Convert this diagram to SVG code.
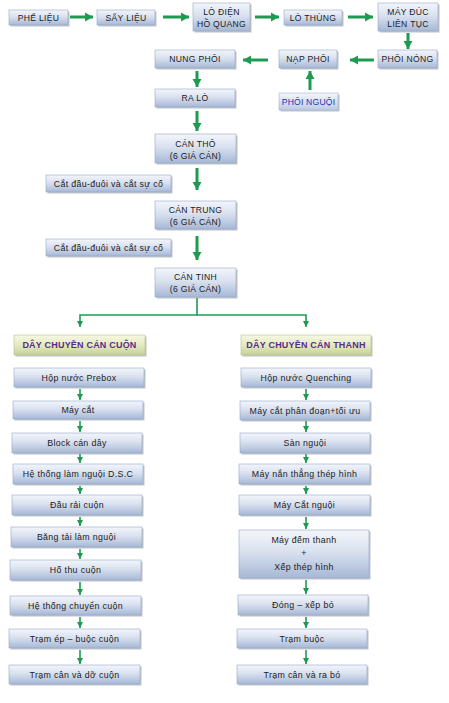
<svg xmlns="http://www.w3.org/2000/svg" width="449" height="703" viewBox="0 0 449 703">
<defs>
<linearGradient id="gb" x1="0" y1="0" x2="0" y2="1">
<stop offset="0" stop-color="#f3f5fb"/>
<stop offset="0.45" stop-color="#d9e1ef"/>
<stop offset="1" stop-color="#a6b8d6"/>
</linearGradient>
<linearGradient id="gy" x1="0" y1="0" x2="0" y2="1">
<stop offset="0" stop-color="#f6f8e4"/>
<stop offset="0.5" stop-color="#e4eac2"/>
<stop offset="1" stop-color="#c6d296"/>
</linearGradient>
<linearGradient id="gl" x1="0" y1="0" x2="0" y2="1">
<stop offset="0" stop-color="#f4f6fb"/>
<stop offset="1" stop-color="#bccbe3"/>
</linearGradient>
<marker id="ah" markerUnits="userSpaceOnUse" markerWidth="10" markerHeight="10" refX="8" refY="5" orient="auto">
<path d="M0,0.5 L8,5 L0,9.5 Z" fill="#1e9a52"/>
</marker>
<marker id="as" markerUnits="userSpaceOnUse" markerWidth="7" markerHeight="7" refX="6" refY="3.5" orient="auto">
<path d="M0,0.5 L6,3.5 L0,6.5 Z" fill="#1e9a52"/>
</marker>
</defs>
<style>
.sh{fill:#8e939c;opacity:0.55}
.b{fill:url(#gb);stroke:#95a8c9;stroke-width:0.6}
.y{fill:url(#gy);stroke:#b5c28a;stroke-width:0.6}
.l{fill:url(#gl);stroke:#a5b5d2;stroke-width:0.6}
text{font-family:"Liberation Sans",Arial,sans-serif;text-anchor:middle;fill:#1b1b24}
.u{font-size:8.6px;letter-spacing:0.3px}
.n{font-size:8.8px;letter-spacing:0.35px}
.h{font-size:9px;font-weight:bold;fill:#5a2c8c;letter-spacing:0.2px}
.p{font-size:8.6px;fill:#1c2fc4;letter-spacing:0.2px}
.ct{fill:none;stroke:#1e9a52;stroke-width:3}
.cs{fill:none;stroke:#1e9a52;stroke-width:1.6}
</style>
<rect width="449" height="703" fill="#ffffff"/>

<g id="connectors">
<line class="ct" x1="70" y1="17" x2="93" y2="17" marker-end="url(#ah)"/>
<line class="ct" x1="163" y1="17" x2="189" y2="17" marker-end="url(#ah)"/>
<line class="ct" x1="255" y1="17" x2="279" y2="17" marker-end="url(#ah)"/>
<line class="ct" x1="348" y1="17" x2="373" y2="17" marker-end="url(#ah)"/>
<line class="ct" x1="408" y1="33" x2="408" y2="49" marker-end="url(#ah)"/>
<line class="ct" x1="374" y1="60" x2="350" y2="60" marker-end="url(#ah)"/>
<line class="ct" x1="268" y1="60" x2="243" y2="60" marker-end="url(#ah)"/>
<line class="ct" x1="310" y1="90" x2="310" y2="71" marker-end="url(#ah)"/>
<line class="ct" x1="197" y1="71" x2="197" y2="87" marker-end="url(#ah)"/>
<line class="ct" x1="197" y1="111" x2="197" y2="131" marker-end="url(#ah)"/>
<line class="ct" x1="197" y1="168" x2="197" y2="190" marker-end="url(#ah)"/>
<line class="ct" x1="197" y1="236" x2="197" y2="260" marker-end="url(#ah)"/>
<polyline class="cs" points="197,298 197,315 80,315 80,327" marker-end="url(#as)"/>
<polyline class="cs" points="197,315 306,315 306,327" marker-end="url(#as)"/>
<line class="cs" x1="80" y1="389" x2="80" y2="400" marker-end="url(#as)"/>
<line class="cs" x1="80" y1="421" x2="80" y2="432" marker-end="url(#as)"/>
<line class="cs" x1="80" y1="454" x2="80" y2="463" marker-end="url(#as)"/>
<line class="cs" x1="80" y1="486" x2="80" y2="494" marker-end="url(#as)"/>
<line class="cs" x1="80" y1="517" x2="80" y2="526" marker-end="url(#as)"/>
<line class="cs" x1="80" y1="549" x2="80" y2="559" marker-end="url(#as)"/>
<line class="cs" x1="80" y1="582" x2="80" y2="595" marker-end="url(#as)"/>
<line class="cs" x1="80" y1="617" x2="80" y2="628" marker-end="url(#as)"/>
<line class="cs" x1="80" y1="650" x2="80" y2="664" marker-end="url(#as)"/>
<line class="cs" x1="306" y1="389" x2="306" y2="400" marker-end="url(#as)"/>
<line class="cs" x1="306" y1="421" x2="306" y2="432" marker-end="url(#as)"/>
<line class="cs" x1="306" y1="454" x2="306" y2="463" marker-end="url(#as)"/>
<line class="cs" x1="306" y1="486" x2="306" y2="494" marker-end="url(#as)"/>
<line class="cs" x1="306" y1="517" x2="306" y2="529" marker-end="url(#as)"/>
<line class="cs" x1="306" y1="580" x2="306" y2="594" marker-end="url(#as)"/>
<line class="cs" x1="306" y1="617" x2="306" y2="628" marker-end="url(#as)"/>
<line class="cs" x1="306" y1="650" x2="306" y2="664" marker-end="url(#as)"/>
</g>

<g id="n-pheu"><rect class="sh" x="10.5" y="11.5" width="59" height="15"/><rect class="b" x="9" y="10" width="59" height="15"/><text class="u" x="38.5" y="20.8">PHẾ LIỆU</text></g>
<g id="n-say"><rect class="sh" x="98.5" y="11.5" width="58" height="15"/><rect class="b" x="97" y="10" width="58" height="15"/><text class="u" x="126" y="20.8">SẤY LIỆU</text></g>
<g id="n-lodien"><rect class="sh" x="194.5" y="4.5" width="57" height="28"/><rect class="b" x="193" y="3" width="57" height="28"/><text class="u" x="221.5" y="14.5">LÒ ĐIỆN</text><text class="u" x="221.5" y="27">HỒ QUANG</text></g>
<g id="n-lothung"><rect class="sh" x="285.5" y="11.5" width="58" height="15"/><rect class="b" x="284" y="10" width="58" height="15"/><text class="u" x="313" y="20.8">LÒ THÙNG</text></g>
<g id="n-mayduc"><rect class="sh" x="379.5" y="4.5" width="60" height="28"/><rect class="b" x="378" y="3" width="60" height="28"/><text class="u" x="408" y="14.5">MÁY ĐÚC</text><text class="u" x="408" y="27">LIÊN TỤC</text></g>
<g id="n-phoinong"><rect class="sh" x="379.5" y="51.5" width="59" height="18"/><rect class="b" x="378" y="50" width="59" height="18"/><text class="u" x="407.5" y="62.3">PHÔI NÓNG</text></g>
<g id="n-napphoi"><rect class="sh" x="280.5" y="51.5" width="58" height="18"/><rect class="b" x="279" y="50" width="58" height="18"/><text class="u" x="308" y="62.3">NẠP PHÔI</text></g>
<g id="n-phoinguoi"><rect class="sh" x="280.5" y="94.5" width="59" height="17"/><rect class="l" x="279" y="93" width="59" height="17"/><text class="p" x="308.5" y="104.8">PHÔI NGUỘI</text></g>
<g id="n-nungphoi"><rect class="sh" x="156.5" y="51.5" width="80" height="18"/><rect class="b" x="155" y="50" width="80" height="18"/><text class="u" x="195" y="62.3">NUNG PHÔI</text></g>
<g id="n-ralo"><rect class="sh" x="156.5" y="90.5" width="80" height="18"/><rect class="b" x="155" y="89" width="80" height="18"/><text class="u" x="195" y="101.3">RA LÒ</text></g>
<g id="n-cantho"><rect class="sh" x="156.5" y="135.5" width="81" height="29"/><rect class="b" x="155" y="134" width="81" height="29"/><text class="u" x="195.5" y="146.5">CÁN THÔ</text><text class="u" x="195.5" y="158.8">(6 GIÁ CÁN)</text></g>
<g id="n-cat1"><rect class="sh" x="47.5" y="176.5" width="125" height="17"/><rect class="b" x="46" y="175" width="125" height="17"/><text class="n" x="108.5" y="186.5">Cắt đầu-đuôi và cắt sự cố</text></g>
<g id="n-cantrung"><rect class="sh" x="156.5" y="202.5" width="81" height="28"/><rect class="b" x="155" y="201" width="81" height="28"/><text class="u" x="195.5" y="213">CÁN TRUNG</text><text class="u" x="195.5" y="225.3">(6 GIÁ CÁN)</text></g>
<g id="n-cat2"><rect class="sh" x="47.5" y="240.5" width="125" height="17"/><rect class="b" x="46" y="239" width="125" height="17"/><text class="n" x="108.5" y="250.5">Cắt đầu-đuôi và cắt sự cố</text></g>
<g id="n-cantinh"><rect class="sh" x="156.5" y="269.5" width="81" height="29"/><rect class="b" x="155" y="268" width="81" height="29"/><text class="u" x="195.5" y="280">CÁN TINH</text><text class="u" x="195.5" y="292.3">(6 GIÁ CÁN)</text></g>

<g id="n-hdr-cuon"><rect class="sh" x="15.5" y="336.5" width="131" height="20"/><rect class="y" x="14" y="335" width="131" height="20"/><text class="h" x="79.5" y="348.3">DÂY CHUYỀN CÁN CUỘN</text></g>
<g id="n-hdr-thanh"><rect class="sh" x="242.5" y="336.5" width="130" height="20"/><rect class="y" x="241" y="335" width="130" height="20"/><text class="h" x="306" y="348.3">DÂY CHUYỀN CÁN THANH</text></g>

<g id="n-l1"><rect class="sh" x="15.5" y="369.5" width="130" height="19"/><rect class="b" x="14" y="368" width="130" height="19"/><text class="n" x="79" y="380.5">Hộp nước Prebox</text></g>
<g id="n-l2"><rect class="sh" x="14.5" y="402.5" width="130" height="18"/><rect class="b" x="13" y="401" width="130" height="18"/><text class="n" x="78" y="413">Máy cắt</text></g>
<g id="n-l3"><rect class="sh" x="13.5" y="434.5" width="130" height="20"/><rect class="b" x="12" y="433" width="130" height="20"/><text class="n" x="77" y="446">Block cán dây</text></g>
<g id="n-l4"><rect class="sh" x="14.5" y="465.5" width="130" height="20"/><rect class="b" x="13" y="464" width="130" height="20"/><text class="n" x="78" y="477">Hệ thống làm nguội D.S.C</text></g>
<g id="n-l5"><rect class="sh" x="13.5" y="496.5" width="130" height="20"/><rect class="b" x="12" y="495" width="130" height="20"/><text class="n" x="77" y="508">Đầu rải cuộn</text></g>
<g id="n-l6"><rect class="sh" x="12.5" y="528.5" width="131" height="20"/><rect class="b" x="11" y="527" width="131" height="20"/><text class="n" x="76.5" y="540">Băng tải làm nguội</text></g>
<g id="n-l7"><rect class="sh" x="11.5" y="561.5" width="131" height="20"/><rect class="b" x="10" y="560" width="131" height="20"/><text class="n" x="75.5" y="573">Hố thu cuộn</text></g>
<g id="n-l8"><rect class="sh" x="11.5" y="597.5" width="131" height="19"/><rect class="b" x="10" y="596" width="131" height="19"/><text class="n" x="75.5" y="608.5">Hệ thống chuyển cuộn</text></g>
<g id="n-l9"><rect class="sh" x="10.5" y="630.5" width="131" height="19"/><rect class="b" x="9" y="629" width="131" height="19"/><text class="n" x="74.5" y="641.5">Trạm ép – buộc cuộn</text></g>
<g id="n-l10"><rect class="sh" x="10.5" y="666.5" width="131" height="19"/><rect class="b" x="9" y="665" width="131" height="19"/><text class="n" x="74.5" y="677.5">Trạm cân và dỡ cuộn</text></g>

<g id="n-r1"><rect class="sh" x="242.5" y="369.5" width="130" height="19"/><rect class="b" x="241" y="368" width="130" height="19"/><text class="n" x="306" y="380.5">Hộp nước Quenching</text></g>
<g id="n-r2"><rect class="sh" x="241.5" y="402.5" width="130" height="19"/><rect class="b" x="240" y="401" width="130" height="19"/><text class="n" x="305" y="413.5">Máy cắt phân đoạn+tối ưu</text></g>
<g id="n-r3"><rect class="sh" x="241.5" y="434.5" width="130" height="20"/><rect class="b" x="240" y="433" width="130" height="20"/><text class="n" x="305" y="446">Sàn nguội</text></g>
<g id="n-r4"><rect class="sh" x="240.5" y="465.5" width="131" height="20"/><rect class="b" x="239" y="464" width="131" height="20"/><text class="n" x="304.5" y="477">Máy nắn thẳng thép hình</text></g>
<g id="n-r5"><rect class="sh" x="240.5" y="496.5" width="131" height="20"/><rect class="b" x="239" y="495" width="131" height="20"/><text class="n" x="304.5" y="508">Máy Cắt nguội</text></g>
<g id="n-r6"><rect class="sh" x="240.5" y="531.5" width="130" height="48"/><rect class="b" x="239" y="530" width="130" height="48"/><text class="n" x="304" y="543">Máy đếm thanh</text><text class="n" x="304" y="556">+</text><text class="n" x="304" y="570">Xếp thép hình</text></g>
<g id="n-r7"><rect class="sh" x="239.5" y="596.5" width="130" height="20"/><rect class="b" x="238" y="595" width="130" height="20"/><text class="n" x="303" y="608">Đóng – xếp bó</text></g>
<g id="n-r8"><rect class="sh" x="238.5" y="630.5" width="130" height="19"/><rect class="b" x="237" y="629" width="130" height="19"/><text class="n" x="302" y="641.5">Trạm buộc</text></g>
<g id="n-r9"><rect class="sh" x="238.5" y="666.5" width="130" height="19"/><rect class="b" x="237" y="665" width="130" height="19"/><text class="n" x="302" y="677.5">Trạm cân và ra bó</text></g>
</svg>
